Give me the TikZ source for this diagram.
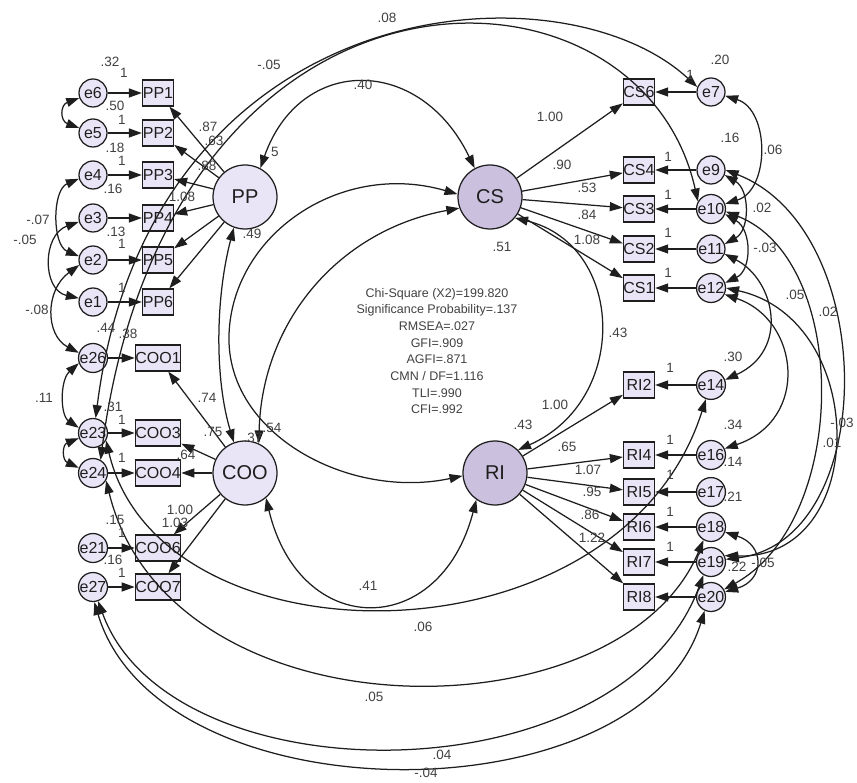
\documentclass[tikz,border=0pt]{standalone}
\usepackage{fontspec}
\setsansfont{Liberation Sans}
\usetikzlibrary{arrows.meta}

\definecolor{lila}{RGB}{234,229,246}
\definecolor{lilaosc}{RGB}{203,192,222}
\definecolor{linea}{RGB}{30,30,30}
\definecolor{texto}{RGB}{65,65,65}

\begin{document}
\begin{tikzpicture}[x=1pt,y=-1pt,line width=1.25pt,color=linea,font=\sffamily,
    >={Triangle[length=13pt,width=9pt]},
    lat/.style={circle,draw,fill=lila,minimum size=64pt,inner sep=0pt,font=\sffamily\fontsize{20}{20}\selectfont},
    err/.style={circle,draw,fill=lila,minimum size=28pt,inner sep=0pt,font=\sffamily\fontsize{16}{16}\selectfont},
    obs/.style={rectangle,draw,fill=lila,minimum width=31pt,minimum height=26pt,inner sep=0pt,font=\sffamily\fontsize{16}{16}\selectfont},
    val/.style={inner sep=0pt,text=texto,font=\sffamily\fontsize{13.5}{13.5}\selectfont}]

    \useasboundingbox (0,0) rectangle (857,783);

    % Variables latentes
    \node[lat] (PP) at (245,197) {PP};
    \node[lat,fill=lilaosc] (CS) at (490,197) {CS};
    \node[lat] (COO) at (245,473) {COO};
    \node[lat,fill=lilaosc] (RI) at (495,473) {RI};

    % Indicadores PP
    \foreach \n/\y [count=\i] in {6/93,5/133,4/175,3/218,2/260,1/302}{
        \node[obs] (pp\i) at (158,\y) {PP\i};
        \node[err] (e\n) at (93,\y) {e\n};
        \draw[->] (e\n) -- (pp\i);
        \draw[->] (PP) -- (pp\i);
    }

    % Indicadores COO
    \foreach \n/\k/\y in {26/1/358,23/3/433,24/4/473,21/6/548,27/7/587}{
        \node[obs] (coo\k) at (158,\y) {COO\k};
        \node[err] (e\n) at (93,\y) {e\n};
        \draw[->] (e\n) -- (coo\k);
        \draw[->] (COO) -- (coo\k);
    }

    % Indicadores CS
    \foreach \n/\k/\y in {7/6/92,9/4/170,10/3/209,11/2/249,12/1/288}{
        \node[obs] (cs\k) at (639,\y) {CS\k};
        \node[err] (e\n) at (711,\y) {e\n};
        \draw[->] (e\n) -- (cs\k);
        \draw[->] (CS) -- (cs\k);
    }

    % Indicadores RI
    \foreach \n/\k/\y in {14/2/385,16/4/455,17/5/492,18/6/527,19/7/562,20/8/597}{
        \node[obs] (ri\k) at (639,\y) {RI\k};
        \node[err] (e\n) at (711,\y) {e\n};
        \draw[->] (e\n) -- (ri\k);
        \draw[->] (RI) -- (ri\k);
    }

    % Covarianzas entre latentes
    \draw[<->] (PP.62) .. controls (300,55) and (420,55) .. (CS.118);
    \draw[<->] (PP.250) .. controls (215,300) and (215,380) .. (COO.110);
    \draw[<->] (CS.175) .. controls (340,160) and (232,235) .. (229,335)
                        .. controls (226,435) and (350,500) .. (RI.185);
    \draw[<->] (CS.200) .. controls (340,230) and (262,320) .. (COO.65);
    \draw[<->] (CS.-40) .. controls (625,245) and (630,400) .. (RI.45);
    \draw[<->] (COO.-50) .. controls (300,640) and (440,640) .. (RI.-125);

    % Covarianzas de errores (izquierda)
    \draw[<->] (e6.200) .. controls (60,105) and (60,121) .. (e5.160);
    \draw[<->] (e4.195) .. controls (52,190) and (52,245) .. (e2.165);
    \draw[<->] (e3.195) .. controls (42,235) and (42,290) .. (e1.165);
    \draw[<->] (e2.200) .. controls (45,290) and (45,335) .. (e26.160);
    \draw[<->] (e26.200) .. controls (60,380) and (60,415) .. (e23.160);
    \draw[<->] (e23.200) .. controls (62,445) and (62,460) .. (e24.160);

    % Covarianzas de errores (arriba)
    \draw[<->] (e23.80) .. controls (150,-10) and (560,-40) .. (e7.160);
    \draw[<->] (e24.60) .. controls (170,-70) and (640,-60) .. (e10.150);

    % Covarianzas de errores (derecha)
    \draw[<->] (e7.-15) .. controls (770,110) and (770,190) .. (e10.20);
    \draw[<->] (e9.-20) .. controls (750,190) and (750,230) .. (e11.20);
    \draw[<->] (e10.-20) .. controls (752,230) and (752,270) .. (e12.20);
    \draw[<->] (e11.-20) .. controls (775,280) and (790,350) .. (e14.20);
    \draw[<->] (e12.-25) .. controls (800,320) and (810,420) .. (e16.25);
    \draw[<->] (e10.-10) .. controls (850,260) and (850,520) .. (e20.30);
    \draw[<->] (e9.0) .. controls (880,230) and (880,540) .. (e19.10);
    \draw[<->] (e12.0) .. controls (870,320) and (870,560) .. (e19.25);
    \draw[<->] (e18.-20) .. controls (765,545) and (765,580) .. (e20.20);

    % Covarianzas de errores (abajo)
    \draw[<->] (e23.-30) .. controls (160,670) and (620,670) .. (e14.-110);
    \draw[<->] (e24.-30) .. controls (170,740) and (620,740) .. (e18.-120);
    \draw[<->] (e27.-70) .. controls (170,800) and (620,800) .. (e19.-120);
    \draw[<->] (e27.-85) .. controls (160,820) and (640,820) .. (e20.-115);

    % Estimaciones
    \foreach \txt/\x/\y [count=\k] in {.32/110/62,1/124/73,.50/115/106,1/122/120,.18/115/148,1/122/161,
        .16/113/189,.13/116/232,1/122/244,1/122/288,.44/106/328,.38/128/334,-.07/38/220,-.05/25/240,
        -.08/37/310,.11/44/398,.31/113/407,1/122/420,1/122/458,.15/115/520,1/122/533,.16/113/560,1/122/573,
        .87/208/127,.63/214/141,.88/207/166,1.08/182/197,5/275/152,.49/252/234,.40/363/85,-.05/269/65,.08/387/18,
        .74/207/398,.75/213/432,.64/186/455,.37/253/438,.54/272/428,1.00/180/510,1.03/175/523,
        .41/368/586,.06/423/627,.05/374/697,.04/442/755,-.04/426/773,
        1.00/550/117,.90/562/165,.53/587/188,.84/587/215,1.08/587/240,.51/502/247,.43/618/333,
        1/690/75,1/668/157,1/668/195,1/668/233,1/668/273,
        .20/720/60,.16/730/138,.06/773/150,.02/762/208,-.03/765/248,.05/795/295,.02/828/312,
        1.00/555/405,.43/523/425,.65/567/447,1.07/588/470,.95/592/492,.86/590/515,1.22/592/538,
        1/670/368,1/670/440,1/670/475,1/670/512,1/670/547,
        .30/733/357,.34/733/425,.14/733/462,.21/733/497,.22/737/567,-.05/763/563,-.03/842/423,.01/832/443}{
        \node[val] (v\k) at (\x,\y) {\txt};
    }

    % Indices de ajuste
    \node[align=center,text=texto,font=\sffamily\fontsize{12.5}{16.7}\selectfont] (ajuste) at (437,351)
        {Chi-Square (X2)=199.820\\Significance Probability=.137\\RMSEA=.027\\GFI=.909\\AGFI=.871\\CMN / DF=1.116\\TLI=.990\\CFI=.992};

\end{tikzpicture}
\end{document}
